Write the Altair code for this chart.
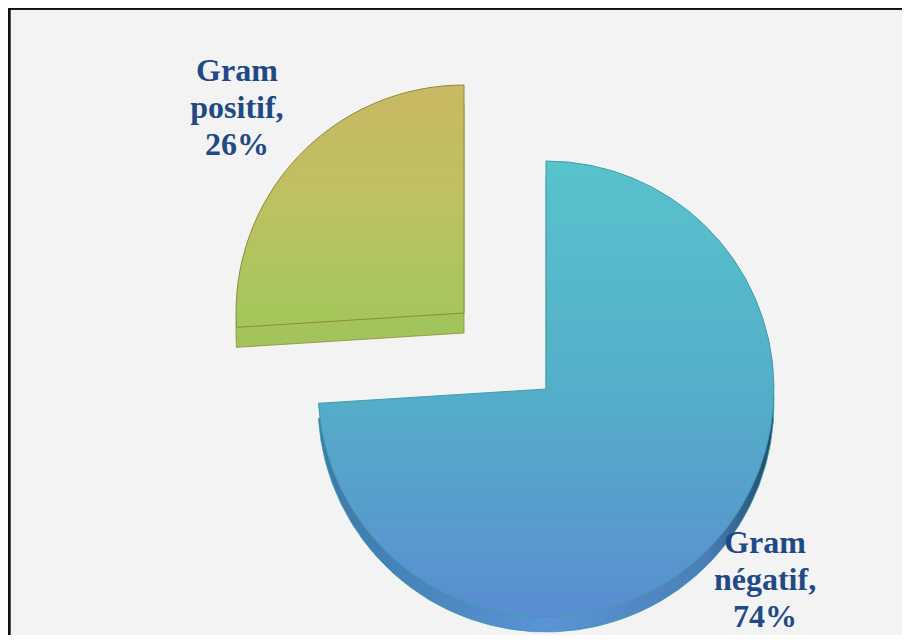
import altair as alt
import pandas as pd

# ---- data ----
categories = ["Gram négatif", "Gram positif"]
words = ["négatif", "positif"]
values = [74, 26]
order = [0, 1]

labels = [f"Gram\n{w},\n{v}%" for w, v in zip(words, values)]
df = pd.DataFrame({"cat": categories, "value": values, "order": order, "label": labels})

TWO_PI = 6.283185307
theta_scale = alt.Scale(domain=[0, 100], range=[0, TWO_PI])

base = (
    alt.Chart(df)
    .transform_window(cum="sum(value)", sort=[alt.SortField("order")], frame=[None, 0])
    .transform_calculate(start="datum.cum - datum.value", mid="datum.cum - datum.value/2")
)

# slice styles: center (view px), radius, thickness, gradients, label nudges
styles = {
    "Gram négatif": dict(
        cx=538, cy=381, r=228, t=15, label_r=295, ldx=4, ldy=-48,
        top=alt.LinearGradient(gradient="linear", x1=0, y1=0, x2=0, y2=1,
                               stops=[alt.GradientStop(color="#58c3cc", offset=0),
                                      alt.GradientStop(color="#54acc8", offset=0.55),
                                      alt.GradientStop(color="#5a8cd2", offset=1)]),
        side=alt.LinearGradient(gradient="linear", x1=0, y1=0, x2=1, y2=0,
                                stops=[alt.GradientStop(color="#3a7aa8", offset=0),
                                       alt.GradientStop(color="#5b93d6", offset=0.5),
                                       alt.GradientStop(color="#4a7fb8", offset=0.85),
                                       alt.GradientStop(color="#1f4a6a", offset=1)]),
        stroke="#3f9dab",
    ),
    "Gram positif": dict(
        cx=456, cy=305, r=228, t=20, label_r=306, ldx=-4, ldy=-33,
        top=alt.LinearGradient(gradient="linear", x1=0, y1=0, x2=0, y2=1,
                               stops=[alt.GradientStop(color="#c9b863", offset=0),
                                      alt.GradientStop(color="#bcc161", offset=0.5),
                                      alt.GradientStop(color="#a2c75b", offset=1)]),
        side=alt.LinearGradient(gradient="linear", x1=0, y1=0, x2=1, y2=0,
                                stops=[alt.GradientStop(color="#a3c45a", offset=0),
                                       alt.GradientStop(color="#a0c45b", offset=1)]),
        stroke="#8f8a3c",
    ),
}

layers = []

# frame (top and left edges; right and bottom lie beyond the window in the reference)
frame_top = alt.Chart(df).mark_rule(color="#111111", strokeWidth=2.5).encode(
    x=alt.value(0), x2=alt.value(2000), y=alt.value(0.5))
frame_left = alt.Chart(df).mark_rule(color="#111111", strokeWidth=2.5).encode(
    y=alt.value(0), y2=alt.value(2000), x=alt.value(1.2))
layers += [frame_top, frame_left]

for cat in categories:
    s = styles[cat]
    sub = base.transform_filter(alt.datum.cat == cat)
    side = sub.mark_arc(radius=s["r"], fill=s["side"], stroke=s["stroke"], strokeWidth=0.8).encode(
        theta=alt.Theta("start:Q", scale=theta_scale, stack=None),
        theta2="cum:Q",
        x=alt.value(s["cx"]),
        y=alt.value(s["cy"] + s["t"]),
    )
    top = sub.mark_arc(radius=s["r"], fill=s["top"], stroke=s["stroke"], strokeWidth=1).encode(
        theta=alt.Theta("start:Q", scale=theta_scale, stack=None),
        theta2="cum:Q",
        x=alt.value(s["cx"]),
        y=alt.value(s["cy"]),
    )
    text = sub.mark_text(
        radius=s["label_r"], font="Liberation Serif", fontSize=32, fontWeight="bold",
        color="#1f4a85", lineBreak="\n", lineHeight=37, align="center", baseline="middle",
        dx=s["ldx"], dy=s["ldy"],
    ).encode(
        theta=alt.Theta("mid:Q", scale=theta_scale, stack=None),
        x=alt.value(s["cx"]),
        y=alt.value(s["cy"]),
        text="label:N",
    )
    layers += [side, top, text]

chart = (
    alt.layer(*layers)
    .properties(width=894, height=627, padding=0, background="white",
                autosize=alt.AutoSizeParams(type="none"))
    .configure_view(fill="#f3f3f3", stroke=None)
)

chart.save("out.html", embed_options={"renderer": "svg", "actions": False})
